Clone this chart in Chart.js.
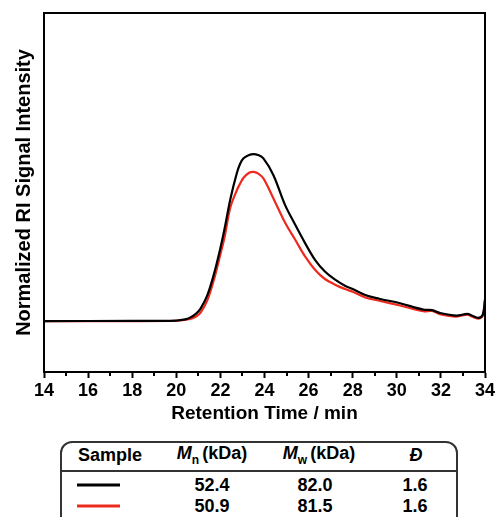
<!DOCTYPE html>
<html>
<head>
<meta charset="utf-8">
<title>GPC traces</title>
<script src="https://cdn.jsdelivr.net/npm/chart.js@4.4.1/dist/chart.umd.min.js"></script>
<style>
  html, body { margin: 0; padding: 0; background: #fff; overflow: hidden; }
  #wrap {
    position: relative; width: 498px; height: 517px; overflow: hidden;
    font-family: "Liberation Sans", Arial, sans-serif; color: #000;
  }
  #plot { position: absolute; left: 0; top: 0; }
  #box {
    position: absolute; left: 60px; top: 441px; width: 398px; height: 110px;
    border: 2px solid #333; border-radius: 12px; box-sizing: border-box;
  }
  #rule { position: absolute; left: 61px; top: 470px; width: 396px; height: 2px; background: #333; }
  .cell {
    position: absolute; transform: translate(-50%, -50%);
    white-space: nowrap; font-weight: bold; font-size: 18px; line-height: 1;
  }
  .cell i { font-style: italic; }
  .cell sub { font-size: 12px; vertical-align: -5px; margin-right: 3px; }
  .swatch { position: absolute; width: 43px; height: 3px; transform: translateY(-50%); }
</style>
</head>
<body>
<div id="wrap">
  <canvas id="plot" width="498" height="430"></canvas>
  <div id="box"></div>
  <div id="rule"></div>
</div>
<script>
// retention time (min) and normalized RI response of the two samples
const retentionTime = [14, 18, 20, 20.4, 20.6, 20.9, 21.1, 21.4, 21.7, 22.0, 22.2, 22.45, 22.75, 22.9, 23.05,
  23.3, 23.5, 23.7, 23.95, 24.4, 24.93, 25.38, 25.84, 26.29, 26.74, 27.2, 27.65, 28.0, 28.6, 29.2, 30.15,
  31.2, 31.6, 31.95, 32.7, 33.2, 33.4, 33.7, 33.9, 34];
const signalBlack = [0, 0.001, 0.003, 0.010, 0.019, 0.045, 0.075, 0.152, 0.278, 0.437, 0.56, 0.73, 0.888, 0.944, 0.975,
  0.995, 1.0, 0.995, 0.974, 0.875, 0.696, 0.58, 0.467, 0.367, 0.297, 0.248, 0.212, 0.192, 0.155, 0.134, 0.107,
  0.069, 0.066, 0.049, 0.033, 0.043, 0.033, 0.019, 0.039, 0.128];
const signalRed = [0, 0, 0.002, 0.007, 0.012, 0.027, 0.05, 0.122, 0.245, 0.40, 0.51, 0.68, 0.785, 0.825, 0.858,
  0.888, 0.894, 0.885, 0.855, 0.736, 0.59, 0.49, 0.387, 0.307, 0.252, 0.218, 0.192, 0.175, 0.14, 0.122, 0.093,
  0.059, 0.061, 0.042, 0.027, 0.039, 0.027, 0.015, 0.033, 0.128];

const xTicks = [14, 16, 18, 20, 22, 24, 26, 28, 30, 32, 34];

// summary table
const sampleColors = ["#000000", "#ee2a1f"];
const mnValues = ["52.4", "50.9"];
const mwValues = ["82.0", "81.5"];
const dispersity = ["1.6", "1.6"];

const wrap = document.getElementById("wrap");
function addCell(html, x, y) {
  const el = document.createElement("div");
  el.className = "cell";
  el.innerHTML = html;
  el.style.left = x + "px";
  el.style.top = y + "px";
  wrap.appendChild(el);
}
const colX = [110, 212, 319, 416];
const headerY = 455;
const rowY = [485, 506];
addCell("Sample", colX[0], headerY);
addCell("<i>M</i><sub>n</sub>(kDa)", colX[1], headerY);
addCell("<i>M</i><sub>w</sub>(kDa)", colX[2], headerY);
addCell("<i>Đ</i>", colX[3], headerY);
sampleColors.forEach((c, i) => {
  const sw = document.createElement("div");
  sw.className = "swatch";
  sw.style.background = c;
  sw.style.left = "77px";
  sw.style.top = rowY[i] + "px";
  wrap.appendChild(sw);
  addCell(mnValues[i], colX[1], rowY[i]);
  addCell(mwValues[i], colX[2] - 4, rowY[i]);
  addCell(dispersity[i], colX[3] - 1, rowY[i]);
});

const toPoints = (ys) => retentionTime.map((t, i) => ({ x: t, y: ys[i] }));

// frame round the plot area plus short minor ticks at odd minutes
const frame = {
  id: "frame",
  afterDraw(chart) {
    const { ctx, chartArea: a, scales: { x } } = chart;
    ctx.save();
    ctx.strokeStyle = "#000";
    ctx.lineWidth = 2;
    ctx.strokeRect(a.left, a.top, a.right - a.left, a.bottom - a.top);
    ctx.beginPath();
    for (let v = 15; v < 34; v += 2) {
      const px = Math.round(x.getPixelForValue(v));
      ctx.moveTo(px, a.bottom);
      ctx.lineTo(px, a.bottom + 4);
    }
    ctx.stroke();
    ctx.restore();
  }
};

new Chart(document.getElementById("plot"), {
  type: "line",
  data: {
    datasets: [
      { data: toPoints(signalBlack), borderColor: sampleColors[0], borderWidth: 2.2 },
      { data: toPoints(signalRed), borderColor: sampleColors[1], borderWidth: 2.2 }
    ]
  },
  options: {
    responsive: false,
    animation: false,
    events: [],
    layout: { padding: { top: 13, right: 13, left: 0, bottom: 0 } },
    elements: {
      point: { radius: 0 },
      line: { tension: 0.35, fill: false }
    },
    plugins: { legend: { display: false }, tooltip: { enabled: false } },
    scales: {
      x: {
        type: "linear",
        min: 14,
        max: 34,
        afterBuildTicks: (s) => { s.ticks = xTicks.map((v) => ({ value: v })); },
        afterFit: (s) => { s.height = 58; },
        ticks: { color: "#000", font: { family: "Liberation Sans", size: 18, weight: "bold" }, padding: 2, maxRotation: 0 },
        grid: { drawOnChartArea: false, tickLength: 6, tickColor: "#000", tickWidth: 2 },
        border: { color: "#000", width: 2 },
        title: {
          display: true,
          text: "Retention Time / min",
          color: "#000",
          font: { family: "Liberation Sans", size: 19, weight: "bold" },
          padding: { top: 0, bottom: 5 }
        }
      },
      y: {
        min: -0.305,
        max: 1.845,
        afterFit: (s) => { s.width = 44; },
        ticks: { display: false },
        grid: { display: false },
        border: { color: "#000", width: 2 },
        title: {
          display: true,
          text: "Normalized RI Signal Intensity",
          color: "#000",
          font: { family: "Liberation Sans", size: 20, weight: "bold" },
          padding: { top: 12, bottom: 0 }
        }
      }
    }
  },
  plugins: [frame]
});
</script>
</body>
</html>
